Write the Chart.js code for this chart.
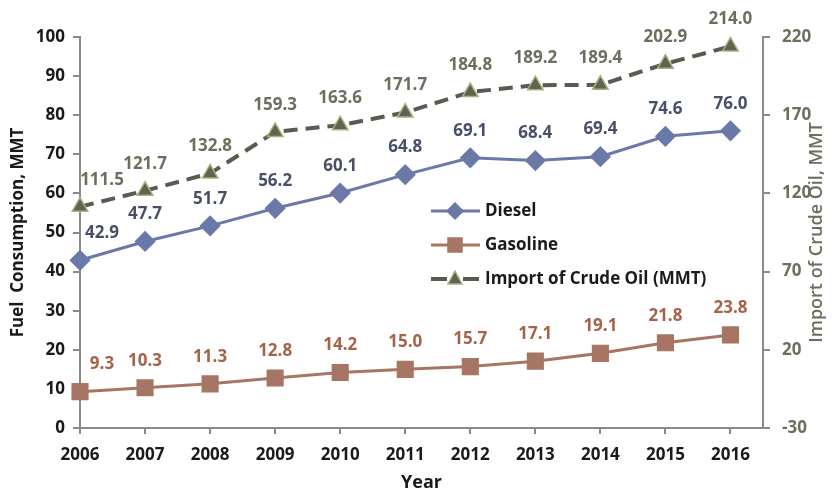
<!DOCTYPE html>
<html>
<head>
<meta charset="utf-8">
<script src="https://cdn.jsdelivr.net/npm/chart.js@4.4.1/dist/chart.umd.min.js"></script>
<style>
  body { margin: 0; background: #fff; }
  #wrap { width: 835px; height: 492px; }
</style>
</head>
<body>
<div id="wrap"><canvas id="fuelChart" width="835" height="492"></canvas></div>
<script>
const years = [2006, 2007, 2008, 2009, 2010, 2011, 2012, 2013, 2014, 2015, 2016];
const diesel = [42.9, 47.7, 51.7, 56.2, 60.1, 64.8, 69.1, 68.4, 69.4, 74.6, 76.0];
const gasoline = [9.3, 10.3, 11.3, 12.8, 14.2, 15.0, 15.7, 17.1, 19.1, 21.8, 23.8];
const crudeImport = [111.5, 121.7, 132.8, 159.3, 163.6, 171.7, 184.8, 189.2, 189.4, 202.9, 214.0];
const leftTicks = [0, 10, 20, 30, 40, 50, 60, 70, 80, 90, 100];
const rightTicks = [-30, 20, 70, 120, 170, 220];

const FONT = "'Open Sans', 'DejaVu Sans', sans-serif";
const axisGrey = '#8a8a8a';
const oilGrey = '#6e6e5e';

function toPoints(values) {
  return values.map((v, i) => ({ x: years[i], y: v }));
}

// value labels above each point, first one nudged right off the axis
const valueLabels = {
  id: 'valueLabels',
  afterDatasetsDraw(chart) {
    const ctx = chart.ctx;
    ctx.save();
    ctx.font = 'bold 17px ' + FONT;
    ctx.textAlign = 'center';
    ctx.textBaseline = 'middle';
    chart.data.datasets.forEach((ds, di) => {
      const meta = chart.getDatasetMeta(di);
      ctx.fillStyle = ds.labelColor;
      meta.data.forEach((pt, i) => {
        const dx = i === 0 ? 22 : 0;
        ctx.fillText(ds.data[i].y.toFixed(1), pt.x + dx, pt.y - 27);
      });
    });
    ctx.restore();
  }
};

function drawMarker(ctx, style, x, y, fill, stroke) {
  ctx.beginPath();
  if (style === 'rectRot') {
    ctx.moveTo(x - 8, y); ctx.lineTo(x, y - 8); ctx.lineTo(x + 8, y); ctx.lineTo(x, y + 8);
  } else if (style === 'rect') {
    ctx.rect(x - 7, y - 7, 14, 14);
  } else {
    ctx.moveTo(x, y - 8); ctx.lineTo(x + 7, y + 5); ctx.lineTo(x - 7, y + 5);
  }
  ctx.closePath();
  ctx.fillStyle = fill;
  ctx.fill();
  ctx.lineWidth = 1.5;
  ctx.strokeStyle = stroke;
  ctx.stroke();
}

// legend floating inside the plot + right axis title reading upwards
const extras = {
  id: 'extras',
  afterDraw(chart) {
    const ctx = chart.ctx;
    ctx.save();
    let y = 211;
    chart.data.datasets.forEach(ds => {
      ctx.beginPath();
      ctx.setLineDash(ds.borderDash ? [16, 16] : []);
      ctx.lineWidth = ds.borderWidth;
      ctx.strokeStyle = ds.borderColor;
      ctx.moveTo(431, y);
      ctx.lineTo(480, y);
      ctx.stroke();
      ctx.setLineDash([]);
      drawMarker(ctx, ds.pointStyle, 455, y, ds.pointBackgroundColor, ds.pointBorderColor);
      ctx.font = 'bold 17px ' + FONT;
      ctx.fillStyle = '#1a1a1a';
      ctx.textAlign = 'left';
      ctx.textBaseline = 'middle';
      ctx.fillText(ds.label, 485, y);
      y += 34;
    });

    const area = chart.chartArea;
    ctx.translate(817, (area.top + area.bottom) / 2);
    ctx.rotate(-Math.PI / 2);
    ctx.font = '600 18px ' + FONT;
    ctx.fillStyle = oilGrey;
    ctx.textAlign = 'center';
    ctx.textBaseline = 'middle';
    ctx.fillText('Import of Crude Oil, MMT', 0, 0);
    ctx.restore();
  }
};

const ctx = document.getElementById('fuelChart').getContext('2d');
new Chart(ctx, {
  type: 'line',
  data: {
    datasets: [{
      label: 'Diesel',
      data: toPoints(diesel),
      yAxisID: 'y',
      borderColor: '#6a79a8',
      borderWidth: 3,
      pointStyle: 'rectRot',
      pointRadius: 8.5,
      pointBackgroundColor: '#6a79a8',
      pointBorderColor: '#6a79a8',
      labelColor: '#485069',
      clip: false
    }, {
      label: 'Gasoline',
      data: toPoints(gasoline),
      yAxisID: 'y',
      borderColor: '#a67563',
      borderWidth: 3,
      pointStyle: 'rect',
      pointRadius: 10,
      pointBackgroundColor: '#a67563',
      pointBorderColor: '#a67563',
      labelColor: '#a5644a',
      clip: false
    }, {
      label: 'Import of Crude Oil (MMT)',
      data: toPoints(crudeImport),
      yAxisID: 'y2',
      borderColor: '#5a5a50',
      borderWidth: 4,
      borderDash: [14, 8],
      pointStyle: 'triangle',
      pointRadius: 9,
      pointBorderWidth: 1.5,
      pointBackgroundColor: '#5e6450',
      pointBorderColor: '#a9b07e',
      labelColor: oilGrey,
      clip: false
    }]
  },
  options: {
    responsive: false,
    animation: false,
    layout: { padding: { top: 37, left: 0, right: 0, bottom: 0 } },
    plugins: {
      legend: { display: false },
      tooltip: { enabled: false }
    },
    scales: {
      x: {
        type: 'linear',
        min: years[0],
        max: years[years.length - 1] + 0.5,
        afterBuildTicks: s => { s.ticks = years.map(v => ({ value: v })); },
        afterFit: s => { s.height = 64; },
        grid: { drawOnChartArea: false, tickLength: 6, tickColor: axisGrey, lineWidth: 2 },
        border: { color: axisGrey, width: 2 },
        ticks: {
          padding: 11,
          color: '#1a1a1a',
          font: { family: FONT, size: 17, weight: 'bold' },
          callback: v => String(v)
        },
        title: {
          display: true,
          text: 'Year',
          color: '#1a1a1a',
          padding: { top: 0, bottom: -2 },
          font: { family: FONT, size: 18, weight: 'bold' }
        }
      },
      y: {
        position: 'left',
        min: leftTicks[0],
        max: leftTicks[leftTicks.length - 1],
        afterBuildTicks: s => { s.ticks = leftTicks.map(v => ({ value: v })); },
        afterFit: s => { s.width = 80; },
        grid: { drawOnChartArea: false, tickLength: 7, tickColor: axisGrey, lineWidth: 2 },
        border: { color: axisGrey, width: 2 },
        ticks: {
          padding: 8,
          color: '#1a1a1a',
          font: { family: FONT, size: 17, weight: 'bold' }
        },
        title: {
          display: true,
          text: 'Fuel  Consumption, MMT',
          color: '#1a1a1a',
          padding: { top: 8, bottom: 0 },
          font: { family: FONT, size: 17, weight: 'bold' }
        }
      },
      y2: {
        position: 'right',
        min: rightTicks[0],
        max: rightTicks[rightTicks.length - 1],
        afterBuildTicks: s => { s.ticks = rightTicks.map(v => ({ value: v })); },
        afterFit: s => { s.width = 72; },
        grid: { drawOnChartArea: false, tickLength: 7, tickColor: axisGrey, lineWidth: 2 },
        border: { color: axisGrey, width: 2 },
        ticks: {
          padding: 12,
          color: oilGrey,
          font: { family: FONT, size: 17, weight: 'bold' }
        }
      }
    }
  },
  plugins: [valueLabels, extras]
});
</script>
</body>
</html>
